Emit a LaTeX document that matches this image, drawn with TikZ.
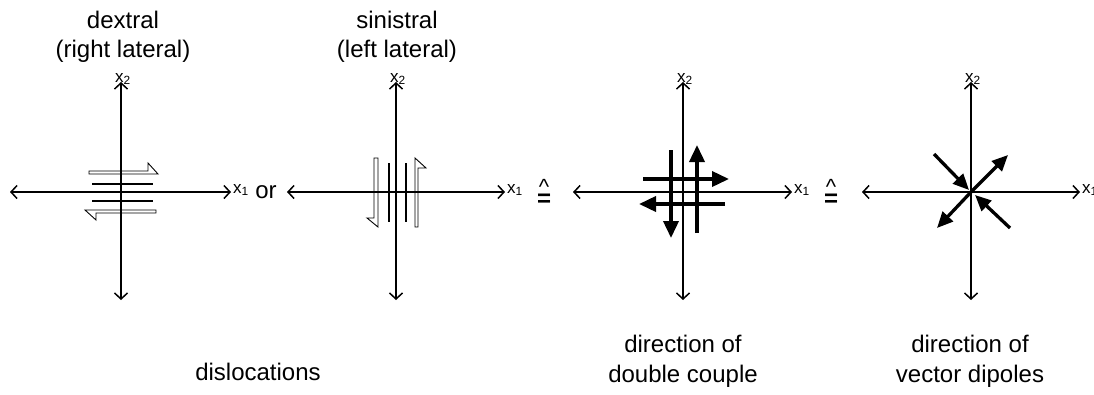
\documentclass[tikz,border=0pt]{standalone}
\usepackage{fontspec}
\setmainfont{Liberation Sans}
\usetikzlibrary{arrows.meta}
\begin{document}
\begin{tikzpicture}[x=1pt,y=-1pt,
  axis/.style={line width=1.5pt,{Straight Barb[length=6pt,width=13pt]}-{Straight Barb[length=6pt,width=13pt]}},
  shp/.style={line width=0.9pt,line join=miter},
  thin/.style={line width=1.5pt},
  bigarrow/.style={line width=3.6pt,-{Triangle[length=17pt,width=15pt]}},
  dip/.style={line width=3.3pt,-{Triangle[length=16pt,width=14pt]}},
  txt/.style={font=\fontsize{24}{28}\selectfont,anchor=base,inner sep=0pt},
  ax/.style={font=\fontsize{17}{17}\selectfont,inner sep=0pt}
]
\useasboundingbox (0,0) rectangle (1094,394);

% axes
\foreach \n/\cx/\l/\r in {a/121/10/231, b/396/287/505, c/683/573/792, d/971/862/1080}{
  \coordinate (\n l) at (\l,192);
  \coordinate (\n r) at (\r,192);
  \coordinate (\n t) at (\cx,82);
  \coordinate (\n b) at (\cx,300);
  \draw[axis] (\n l) -- (\n r);
  \draw[axis] (\n b) -- (\n t);
  \node[ax,anchor=west] (\n x1) at ([xshift=2pt,yshift=2pt]\n r) {x\textsubscript{1}};
  \node[ax,anchor=south] (\n x2) at ([xshift=2pt,yshift=-3pt]\n t) {x\textsubscript{2}};
}

% dextral
\draw[shp] (89,171) -- (148,171) -- (148,163) -- (158,174) -- (89,174) -- cycle;
\draw[shp] (156,210) -- (85,210) -- (96,220) -- (96,213) -- (156,213) -- cycle;
\draw[thin] (92,184) -- (153,184);
\draw[thin] (92,201) -- (153,201);

% sinistral
\draw[shp] (374,158) -- (378,158) -- (378,227) -- (367,218) -- (374,218) -- cycle;
\draw[shp] (415,227) -- (415,158) -- (426,168) -- (418,168) -- (418,227) -- cycle;
\draw[thin] (389,163) -- (389,222);
\draw[thin] (406,163) -- (406,222);

% double couple
\draw[bigarrow] (643,179) -- (729,179);
\draw[bigarrow] (725,204) -- (639,204);
\draw[bigarrow] (671,150) -- (671,238);
\draw[bigarrow] (697,233) -- (697,145);

% vector dipoles
\coordinate (o) at (971,192);
\draw[dip] (934,154) -- (969,190);
\draw[dip] (1010,228) -- (975,195);
\draw[dip] (o) -- (1008,155);
\draw[dip] (o) -- (937,228);

% texts
\node[txt] (t1) at (123,28) {dextral};
\node[txt] (t2) at (123,57) {(right lateral)};
\node[txt] (t3) at (397,28) {sinistral};
\node[txt] (t4) at (397,57) {(left lateral)};
\node[txt] (or) at (266,198) {or};
\node[txt] (b1) at (258,380) {dislocations};
\node[txt] (b2) at (683,352) {direction of};
\node[txt] (b3) at (683,382) {double couple};
\node[txt] (b4) at (970,352) {direction of};
\node[txt] (b5) at (970,382) {vector dipoles};

% corresponds-to symbols
\foreach \n/\x in {e1/544, e2/831}{
  \node[inner sep=0pt,anchor=base,font=\fontsize{24}{24}\selectfont\bfseries] (\n) at (\x,206)
    {\ooalign{=\cr\hidewidth\raisebox{12pt}{\fontsize{22}{22}\selectfont\mdseries\textasciicircum}\hidewidth\cr}};
}
\end{tikzpicture}
\end{document}
